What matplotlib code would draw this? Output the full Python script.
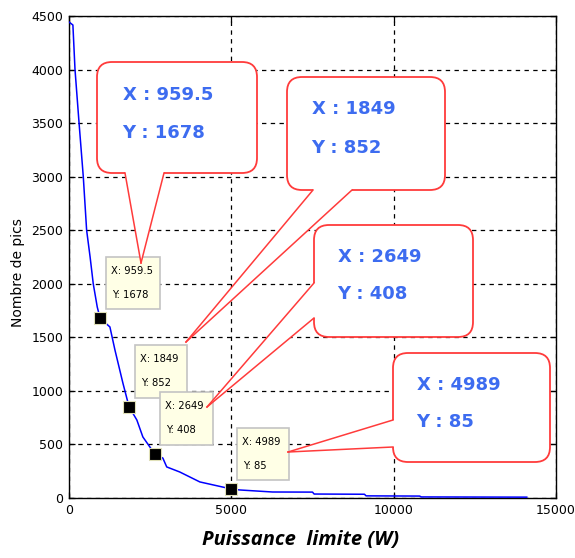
import matplotlib
matplotlib.use('Agg')
import matplotlib.pyplot as plt
from matplotlib.patches import FancyBboxPatch, Polygon, Rectangle
from matplotlib.lines import Line2D
import matplotlib.transforms as mtransforms

# ---- data ----
curve_x = [0, 120, 185, 310, 440, 543, 650, 747, 870, 959.5, 1260, 1415, 1660, 1849,
           2090, 2275, 2649, 2890, 3010, 3410, 4030, 4989, 5260, 6270, 7500, 7550,
           9100, 9150, 10800, 10850, 14100]
curve_y = [4444, 4416, 4000, 3500, 3000, 2500, 2250, 2000, 1783, 1678, 1597, 1382, 1073, 852,
           728, 570, 408, 373, 290, 243, 150, 85, 75, 56, 55, 37,
           35, 20, 18, 10, 8]
point_x = [959.5, 1849, 2649, 4989]
point_y = [1678, 852, 408, 85]
x_ticks = [0, 5000, 10000, 15000]
y_ticks = [0, 500, 1000, 1500, 2000, 2500, 3000, 3500, 4000, 4500]
x_label = "Puissance  limite (W)"
y_label = "Nombre de pics"

W, H = 575, 558
fig = plt.figure(figsize=(W / 100, H / 100), dpi=100)
ax = fig.add_axes([69 / W, 60 / H, 487 / W, 482 / H])

ax.plot(curve_x, curve_y, color='#0000ff', lw=1.1, zorder=3)
ax.plot(point_x, point_y, 's', ms=8.5, mfc='black', mec='#e0e0b8', mew=0.8,
        zorder=4, clip_on=False)
ax.set_xlim(0, 15000)
ax.set_ylim(0, 4500)
ax.set_xticks(x_ticks)
ax.set_yticks(y_ticks)
ax.set_xticklabels([str(v) for v in x_ticks])
ax.set_yticklabels([str(v) for v in y_ticks])
ax.grid(True, color='black', ls=(0, (3.5, 3.5)), lw=0.9, zorder=1)
ax.set_axisbelow(True)
ax.tick_params(direction='in', top=True, right=True, length=4, width=0.9,
               labelsize=9, pad=4)
for s in ax.spines.values():
    s.set_linewidth(1.0)

ax.set_ylabel(y_label, fontsize=10, family='DejaVu Sans')
ax.yaxis.set_label_coords(-0.09, 0.467)
ax.set_xlabel(x_label, fontsize=14.5, family='Open Sans', fontweight='bold',
              style='italic')
ax.xaxis.set_label_coords(0.476, -0.066)

# pixel-space transform (reference image pixels, y downwards)
px = mtransforms.Affine2D().scale(1 / W, -1 / H).translate(0, 1) + fig.transFigure

# small yellow data tips (layout in pixels)
small_boxes = [(106, 257, 54, 52), (135, 345, 52, 53), (160, 392, 53, 53), (237, 428, 52, 52)]
for (bx, by, bw, bh), xv, yv in zip(small_boxes, point_x, point_y):
    ax.add_patch(Rectangle((bx, by), bw, bh, transform=px, facecolor='#ffffe6',
                           edgecolor='#c4c4c4', lw=1.2, zorder=6, clip_on=False))
    ax.text(bx + 5, by + 14, f"X: {xv:g}", transform=px, fontsize=7.2,
            va='center', ha='left', zorder=7, clip_on=False)
    ax.text(bx + 6, by + 38, f"Y: {yv:g}", transform=px, fontsize=7.2,
            va='center', ha='left', zorder=7, clip_on=False)

# big red callouts (layout in pixels)
callouts = [
    dict(box=(97, 62, 160, 111), base=[(125, 173), (164, 173)], inward=(0, -4),
         tip=(141, 263), tx=123, ty=(95, 133)),
    dict(box=(287, 77, 158, 113), base=[(313, 190), (352, 190)], inward=(0, -4),
         tip=(186, 342), tx=312, ty=(109, 148)),
    dict(box=(314, 225, 159, 112), base=[(314, 283), (314, 318)], inward=(4, 0),
         tip=(207, 407), tx=338, ty=(257, 294)),
    dict(box=(393, 353, 157, 109), base=[(393, 420), (393, 447)], inward=(4, 0),
         tip=(288, 452), tx=417, ty=(385, 422)),
]
red = '#ff3b3b'
blue = '#3d6cf0'
for c, xv, yv in zip(callouts, point_x, point_y):
    bx, by, bw, bh = c['box']
    ax.add_patch(FancyBboxPatch((bx, by), bw, bh, transform=px,
                                boxstyle="round,pad=0,rounding_size=15",
                                facecolor='white', edgecolor=red, lw=1.3,
                                zorder=8, clip_on=False))
    (b1x, b1y), (b2x, b2y) = c['base']
    ix, iy = c['inward']
    tx, ty = c['tip']
    ax.add_patch(Polygon([(b1x + ix, b1y + iy), (b1x, b1y), (tx, ty), (b2x, b2y),
                          (b2x + ix, b2y + iy)], closed=True, transform=px,
                         facecolor='white', edgecolor='none', zorder=9, clip_on=False))
    for (bxx, byy) in c['base']:
        ax.add_line(Line2D([bxx, tx], [byy, ty], transform=px, color=red, lw=1.1,
                           zorder=10, clip_on=False))
    ax.text(c['tx'], c['ty'][0], f"X : {xv:g}", transform=px, color=blue,
            fontsize=13, fontweight='bold', va='center', ha='left', zorder=11)
    ax.text(c['tx'] - 1, c['ty'][1], f"Y : {yv:g}", transform=px, color=blue,
            fontsize=13, fontweight='bold', va='center', ha='left', zorder=11)

fig.savefig('out.png', dpi=100)
